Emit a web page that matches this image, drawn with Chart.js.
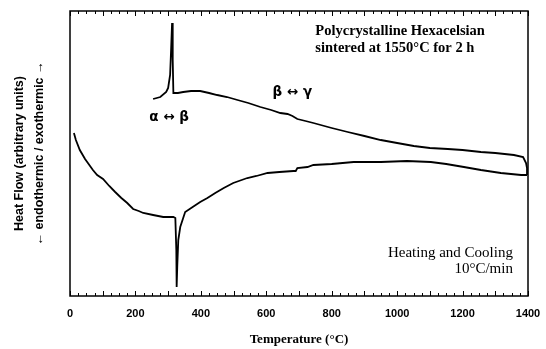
<!DOCTYPE html>
<html>
<head>
<meta charset="utf-8">
<script src="https://cdn.jsdelivr.net/npm/chart.js@4/dist/chart.umd.min.js"></script>
<style>html,body{margin:0;background:#fff}</style>
</head>
<body>
<canvas id="dsc" width="546" height="349"></canvas>
<script>
// cooling curve (upper trace), temperature in C, heat flow in arbitrary units
var coolT = [254,276,294,300,306,309,312,314,316,330,346,370,398,425,450,480,512,545,582,615,643,665,680,695,720,744,800,849,900,950,1000,1051,1100,1155,1200,1256,1300,1357,1385,1394,1397,1397];
var coolQ = [197,199,204,208,221,246,273,236,203,203,204,205,205,203,201,199,196,193,189,186,183,182,180,177,175,173,168,164,160,156,153,150,148,147,146,144,143,141,139,133,128,121];
// heating curve (lower trace)
var heatT = [12,18,30,46,70,83,101,120,138,157,175,193,210,224,254,285,316,322,325,326,328,331,337,346,352,375,398,420,444,470,499,542,570,604,640,683,690,695,726,744,800,867,950,1030,1103,1150,1204,1256,1317,1379,1397];
var heatQ = [163,156,146,137,126,121,117,110,104,98,93,87,85,83,81,79,79,78,46,9,31,56,69,78,84,89,94,98,103,108,113,118,120,123,124,125,125,128,129,131,132,134,134,135,134,132,129,126,123,121,121];
var xLabels = [0,200,400,600,800,1000,1200,1400];

function pts(xs, ys) {
  return xs.map(function (x, i) { return {x: x, y: ys[i]}; });
}

// frame, inward ticks and the text notes
var deco = {
  id: 'deco',
  afterDraw: function (chart) {
    var c = chart.ctx, a = chart.chartArea, xs = chart.scales.x, ys = chart.scales.y;
    c.save();
    c.strokeStyle = '#000';
    c.lineWidth = 1.5;
    c.strokeRect(a.left, a.top, a.right - a.left, a.bottom - a.top);
    c.lineWidth = 1;
    for (var t = 0; t <= 1400; t += 25) {
      var px = Math.round(xs.getPixelForValue(t)) + 0.5;
      var len = (t % 100 === 0) ? 5 : 3;
      c.beginPath();
      c.moveTo(px, a.bottom); c.lineTo(px, a.bottom - len);
      c.moveTo(px, a.top); c.lineTo(px, a.top + len);
      c.stroke();
    }
    c.fillStyle = '#000';
    c.textBaseline = 'middle';
    c.textAlign = 'left';
    c.font = 'bold 14.5px "Liberation Serif"';
    c.fillText('Polycrystalline Hexacelsian', xs.getPixelForValue(750), ys.getPixelForValue(265));
    c.fillText('sintered at 1550\u00b0C for 2 h', xs.getPixelForValue(750), ys.getPixelForValue(248));
    c.font = 'bold 13.5px "DejaVu Sans"';
    c.fillText('\u03b2 \u2194 \u03b3', xs.getPixelForValue(619), ys.getPixelForValue(204));
    c.fillText('\u03b1 \u2194 \u03b2', xs.getPixelForValue(242), ys.getPixelForValue(179));
    c.textAlign = 'right';
    c.font = '15px "Liberation Serif"';
    c.fillText('Heating and Cooling', xs.getPixelForValue(1354), ys.getPixelForValue(43));
    c.fillText('10\u00b0C/min', xs.getPixelForValue(1354), ys.getPixelForValue(27));
    c.restore();
  }
};

new Chart(document.getElementById('dsc').getContext('2d'), {
  type: 'line',
  data: {
    datasets: [
      { label: 'Cooling', data: pts(coolT, coolQ), borderColor: '#000', borderWidth: 1.8, pointRadius: 0, fill: false, tension: 0 },
      { label: 'Heating', data: pts(heatT, heatQ), borderColor: '#000', borderWidth: 1.8, pointRadius: 0, fill: false, tension: 0 }
    ]
  },
  options: {
    responsive: false,
    animation: false,
    layout: { padding: { top: 11, right: 18, left: 0, bottom: 0 } },
    plugins: { legend: { display: false }, tooltip: { enabled: false } },
    scales: {
      x: {
        type: 'linear', min: 0, max: 1400,
        afterFit: function (s) { s.height = 53; s.paddingLeft = 0; s.paddingRight = 0; },
        afterBuildTicks: function (s) { s.ticks = xLabels.map(function (v) { return {value: v}; }); },
        grid: { display: false, drawTicks: false },
        border: { display: false },
        ticks: { color: '#000', padding: 11, font: { family: 'Liberation Sans', size: 11, weight: 'bold' }, maxRotation: 0, autoSkip: false,
                 callback: function (v) { return String(v); } },
        title: { display: true, text: 'Temperature (\u00b0C)', color: '#000', padding: { top: 4, bottom: 2 },
                 font: { family: 'Liberation Serif', size: 13, weight: 'bold' } }
      },
      y: {
        min: 0, max: 285,
        afterFit: function (s) { s.width = 70; },
        grid: { display: false },
        border: { display: false },
        ticks: { display: false },
        title: { display: true, text: ['Heat Flow (arbitrary units)', '\u2190 endothermic / exothermic \u2192'], color: '#000',
                 padding: { top: 10, bottom: 0 }, font: { family: 'Liberation Sans', size: 12.5, weight: 'bold', lineHeight: 1.55 } }
      }
    }
  },
  plugins: [deco]
});
</script>
</body>
</html>
